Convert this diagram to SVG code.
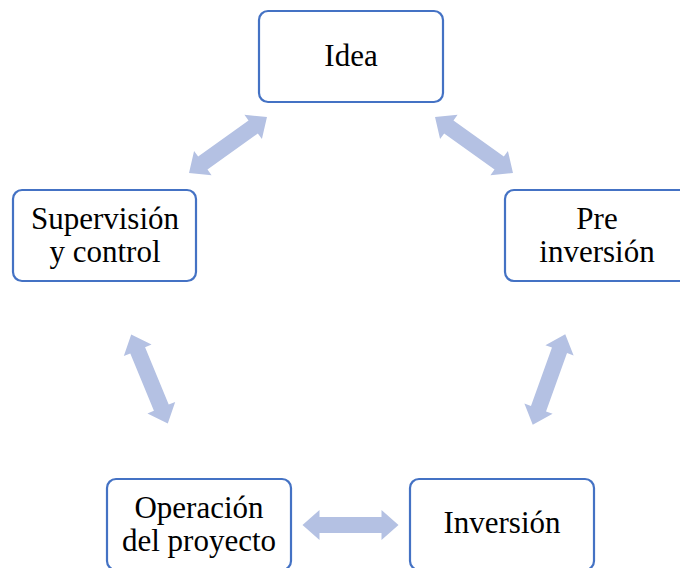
<svg xmlns="http://www.w3.org/2000/svg" width="680" height="568" viewBox="0 0 680 568">
<defs>
<style>
.box{fill:#fff;stroke:#4472C4;stroke-width:2.2}
.t{font-family:"Liberation Serif","Times New Roman",serif;font-size:31px;fill:#000;text-anchor:middle}
.arr{fill:#B4C1E3}
</style>
<path id="dbl" d="M-48,0 L-31,-15 L-31,-8 L31,-8 L31,-15 L48,0 L31,15 L31,8 L-31,8 L-31,15 Z"/>
</defs>
<rect width="680" height="568" fill="#fff"/>
<g id="connectors" class="arr">
<use href="#dbl" transform="translate(228,145) rotate(-35.7)"/>
<use href="#dbl" transform="translate(474,145) rotate(35.7)"/>
<use href="#dbl" transform="translate(149.5,379) rotate(67.6)"/>
<use href="#dbl" transform="translate(549,379.5) rotate(109.8)"/>
<use href="#dbl" transform="translate(350.5,525)"/>
</g>
<g id="idea">
<rect class="box" x="259" y="11" width="184" height="91" rx="9"/>
<text class="t" x="351" y="66">Idea</text>
</g>
<g id="supervision">
<rect class="box" x="13" y="190" width="183" height="91" rx="9"/>
<text class="t" x="105" y="229">Supervisión</text>
<text class="t" x="105" y="262">y control</text>
</g>
<g id="preinversion">
<rect class="box" x="505" y="190" width="184" height="91" rx="9"/>
<text class="t" x="597" y="229">Pre</text>
<text class="t" x="597" y="262">inversión</text>
</g>
<g id="operacion">
<rect class="box" x="107" y="479" width="184" height="91" rx="9"/>
<text class="t" x="199" y="518">Operación</text>
<text class="t" x="199" y="551">del proyecto</text>
</g>
<g id="inversion">
<rect class="box" x="410" y="479" width="184" height="91" rx="9"/>
<text class="t" x="502" y="533">Inversión</text>
</g>
</svg>
